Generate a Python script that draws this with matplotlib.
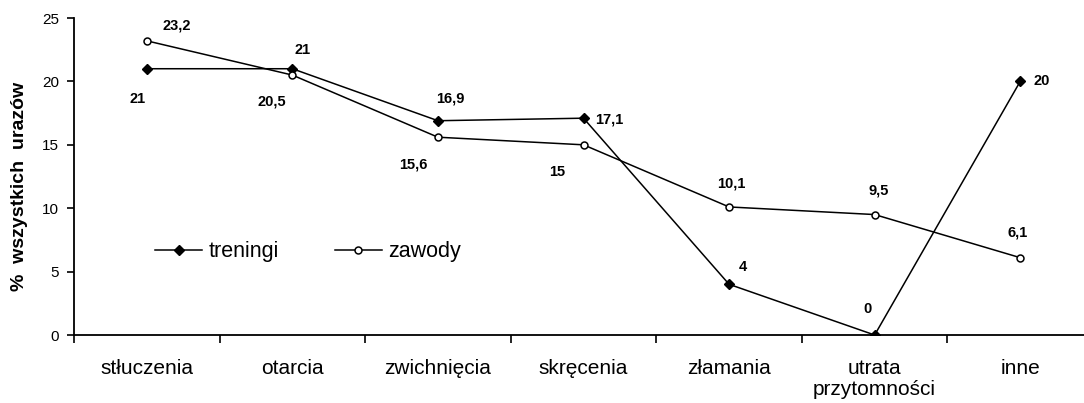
import matplotlib
matplotlib.use('Agg')
from matplotlib import pyplot as plt

categories = ['stłuczenia', 'otarcia', 'zwichnięcia', 'skręcenia', 'złamania',
              'utrata\nprzytomności', 'inne']
treningi = [21, 21, 16.9, 17.1, 4, 0, 20]
zawody = [23.2, 20.5, 15.6, 15, 10.1, 9.5, 6.1]
treningiLabels = ['21', '21', '16,9', '17,1', '4', '0', '20']
zawodyLabels = ['23,2', '20,5', '15,6', '15', '10,1', '9,5', '6,1']

# label offsets in points (dx, dy)
treningiOff = [(-6.5, -21.7), (7.2, 13.5), (8.6, 16.3), (18.7, -0.6), (10, 12.5), (-5, 18.7), (15.8, 0)]
zawodyOff = [(21.6, 10.7), (-15, -18.7), (-18, -20), (-18.7, -19.5), (1.4, 17), (3, 17.6), (-2, 17.8)]

plt.rcParams['font.family'] = ['Liberation Sans', 'DejaVu Sans']

fig = plt.figure(figsize=(10.84, 4.03), dpi=100)
ax = fig.add_axes([0.0683, 0.1687, 0.940, 0.7866])

x = list(range(len(categories)))
ax.plot(x, treningi, color='black', lw=1.1, marker='D', ms=5.5,
        markerfacecolor='black', markeredgecolor='black', label='treningi')
ax.plot(x, zawody, color='black', lw=1.1, marker='o', ms=5,
        markerfacecolor='white', markeredgecolor='black', markeredgewidth=1.1,
        label='zawody')

for i in x:
    ax.annotate(treningiLabels[i], (i, treningi[i]), textcoords='offset points',
                xytext=treningiOff[i], ha='center', va='center',
                fontsize=10.5, fontweight='bold')
    ax.annotate(zawodyLabels[i], (i, zawody[i]), textcoords='offset points',
                xytext=zawodyOff[i], ha='center', va='center',
                fontsize=10.5, fontweight='bold')

ax.set_xlim(-0.5, 6.5)
ax.set_ylim(0, 25)
ax.set_yticks([0, 5, 10, 15, 20, 25])
ax.set_xticks([i - 0.5 for i in range(8)], minor=False)
ax.set_xticklabels([])
ax.set_xticks(x, minor=True)
ax.set_xticklabels(categories, minor=True, fontsize=15, linespacing=1.15)
ax.tick_params(axis='x', which='minor', length=0, pad=17)
ax.tick_params(axis='x', which='major', length=6, direction='out', width=1.2)
ax.tick_params(axis='y', length=5, direction='out', width=1.2, labelsize=11, pad=6)

for s in ['top', 'right']:
    ax.spines[s].set_visible(False)
ax.spines['left'].set_linewidth(1.3)
ax.spines['bottom'].set_linewidth(1.3)

ax.set_ylabel('%  wszystkich  urazów', fontsize=14, fontweight='bold')
ax.yaxis.set_label_coords(-0.045, 0.468)

leg = ax.legend(loc='center left', bbox_to_anchor=(0.0795, 0.262), ncol=2,
                frameon=False, fontsize=15.5, handlelength=2.2, columnspacing=2.6,
                handletextpad=0.28, borderpad=0, borderaxespad=0)

fig.savefig('out.png', dpi=100)
